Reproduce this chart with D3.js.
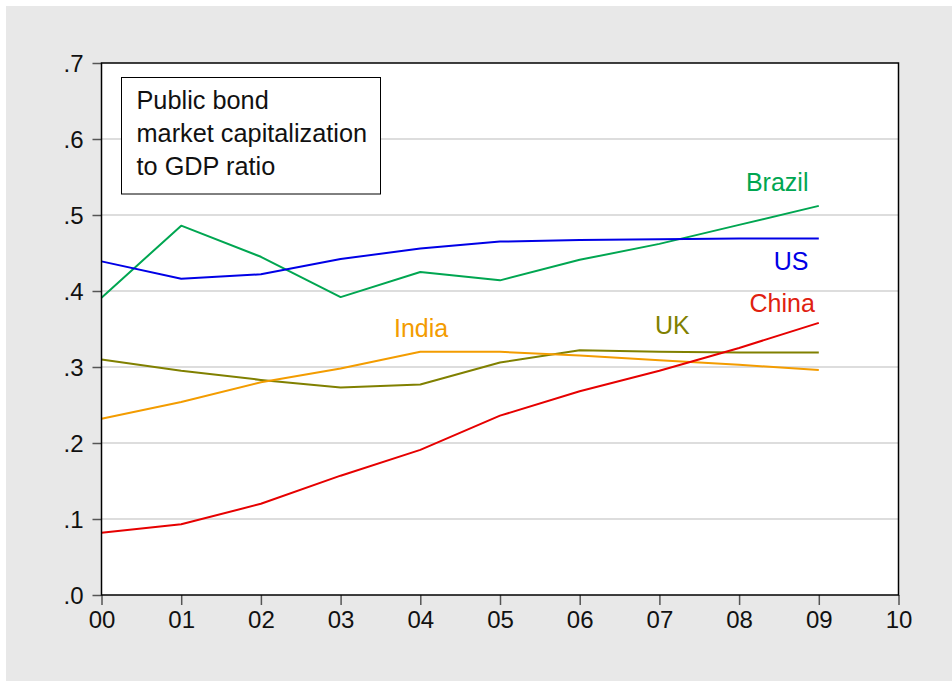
<!DOCTYPE html>
<html>
<head>
<meta charset="utf-8">
<script src="https://cdn.jsdelivr.net/npm/d3@7"></script>
<style>
  html, body { margin: 0; padding: 0; background: #ffffff; }
  svg { display: block; }
  text { font-family: Arial, "Liberation Sans", sans-serif; }
</style>
</head>
<body>
<svg id="chart" width="952" height="681"></svg>
<script>
// ---- data ----
const years = [0, 1, 2, 3, 4, 5, 6, 7, 8, 9];
const xTickLabels = ["00", "01", "02", "03", "04", "05", "06", "07", "08", "09", "10"];
const yTickValues = [0, 0.1, 0.2, 0.3, 0.4, 0.5, 0.6, 0.7];
const yTickLabels = [".0", ".1", ".2", ".3", ".4", ".5", ".6", ".7"];
const us     = [0.439, 0.416, 0.422, 0.442, 0.456, 0.465, 0.467, 0.468, 0.469, 0.469];
const brazil = [0.391, 0.486, 0.445, 0.392, 0.425, 0.414, 0.441, 0.462, 0.487, 0.512];
const uk     = [0.310, 0.295, 0.283, 0.273, 0.277, 0.306, 0.322, 0.320, 0.319, 0.319];
const india  = [0.232, 0.254, 0.280, 0.298, 0.320, 0.320, 0.315, 0.309, 0.303, 0.296];
const china  = [0.082, 0.093, 0.120, 0.157, 0.191, 0.236, 0.268, 0.295, 0.325, 0.358];
const seriesNames = ["US", "Brazil", "UK", "India", "China"];
const legendLines = ["Public bond", "market capitalization", "to GDP ratio"];

// ---- styling / layout ----
const colors = { US: "#0000e6", Brazil: "#00a651", UK: "#808000", India: "#f39c00", China: "#e60000" };
const labelColors = { US: "#0000e6", Brazil: "#00a651", UK: "#808000", India: "#f39c00", China: "#e02010" };
const labelPos = {
  Brazil: { x: 8.87, y: 0.532, anchor: "end" },
  US:     { x: 8.87, y: 0.428, anchor: "end" },
  China:  { x: 8.95, y: 0.373, anchor: "end" },
  UK:     { x: 7.38, y: 0.344, anchor: "end" },
  India:  { x: 4.35, y: 0.340, anchor: "end" }
};
const W = 952, H = 681;
const pLeft = 101.5, pRight = 898.5, pTop = 63, pBottom = 595;

const svg = d3.select("#chart");
svg.append("rect").attr("x", 6).attr("y", 6).attr("width", W - 6).attr("height", H - 6).attr("fill", "#e8e8e8");

const x = d3.scaleLinear().domain([0, 10]).range([pLeft, pRight]);
const y = d3.scaleLinear().domain([0, 0.7]).range([pBottom, pTop]);

svg.append("rect").attr("x", pLeft).attr("y", pTop).attr("width", pRight - pLeft).attr("height", pBottom - pTop).attr("fill", "#ffffff");

svg.append("g").selectAll("line").data(yTickValues.filter(v => v > 0 && v < 0.7)).join("line")
  .attr("x1", pLeft).attr("x2", pRight)
  .attr("y1", d => y(d)).attr("y2", d => y(d))
  .attr("stroke", "#d2d2d2").attr("stroke-width", 1.5);

const seriesData = { US: us, Brazil: brazil, UK: uk, India: india, China: china };
const line = d3.line().x((d, i) => x(years[i])).y(d => y(d));
const drawOrder = ["UK", "India", "China", "Brazil", "US"];
drawOrder.forEach(name => {
  svg.append("path").datum(seriesData[name])
    .attr("d", line).attr("fill", "none")
    .attr("stroke", colors[name]).attr("stroke-width", 2)
    .attr("stroke-linejoin", "round");
});

const xAxis = d3.axisBottom(x).tickValues(d3.range(0, 11)).tickFormat((d, i) => xTickLabels[i]).tickSize(10).tickSizeOuter(0).tickPadding(5);
const gx = svg.append("g").attr("transform", `translate(0,${pBottom})`).call(xAxis);
gx.select(".domain").remove();
gx.selectAll(".tick line").attr("stroke", "#555").attr("stroke-width", 1.5);
gx.selectAll(".tick text").attr("font-size", 24).attr("fill", "#111").attr("font-family", "Arial, 'Liberation Sans', sans-serif").attr("dy", "0.75em");

const yAxis = d3.axisLeft(y).tickValues(yTickValues).tickFormat((d, i) => yTickLabels[i]).tickSize(9).tickSizeOuter(0).tickPadding(9);
const gy = svg.append("g").attr("transform", `translate(${pLeft},0)`).call(yAxis);
gy.select(".domain").remove();
gy.selectAll(".tick line").attr("stroke", "#555").attr("stroke-width", 1.5);
gy.selectAll(".tick text").attr("font-size", 24).attr("fill", "#111").attr("font-family", "Arial, 'Liberation Sans', sans-serif").attr("dy", "0.36em");

svg.append("rect").attr("x", pLeft).attr("y", pTop).attr("width", pRight - pLeft).attr("height", pBottom - pTop)
  .attr("fill", "none").attr("stroke", "#000").attr("stroke-width", 1.5);

seriesNames.forEach(name => {
  const p = labelPos[name];
  svg.append("text").attr("x", x(p.x)).attr("y", y(p.y))
    .attr("text-anchor", p.anchor).attr("font-size", 25)
    .attr("fill", labelColors[name]).text(name);
});

const lg = svg.append("g");
lg.append("rect").attr("x", 121.5).attr("y", 77.5).attr("width", 259).attr("height", 116.5)
  .attr("fill", "#fff").attr("stroke", "#000").attr("stroke-width", 1);
lg.selectAll("text").data(legendLines).join("text")
  .attr("x", 136.5).attr("y", (d, i) => 108.5 + i * 33)
  .attr("font-size", 25.3).attr("fill", "#111").text(d => d);
</script>
</body>
</html>
